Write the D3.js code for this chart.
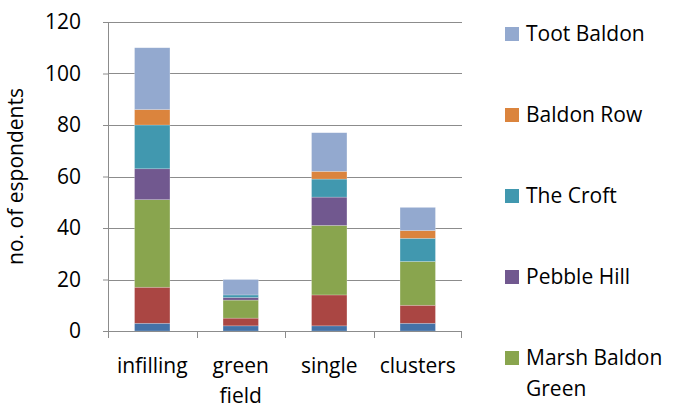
<!DOCTYPE html>
<meta charset="utf-8">
<style>
body { margin: 0; background: #fff; }
text { font-family: "Open Sans", "Liberation Sans", sans-serif; fill: #000; }
</style>
<body>
<script src="https://d3js.org/d3.v7.min.js"></script>
<script>

// categories along the x axis (multi-line labels split on \n)
var categories = ["infilling", "green\nfield", "single", "clusters"];

// series from bottom of stack to top
var seriesNames = ["Series 1", "Series 2", "Marsh Baldon Green", "Pebble Hill", "The Croft", "Baldon Row", "Toot Baldon"];
var seriesColors = ["#4572A7", "#AA4643", "#89A54E", "#71588F", "#4198AF", "#DB843D", "#93A9CF"];

var s1 = [3, 2, 2, 3];
var s2 = [14, 3, 12, 7];
var marshBaldonGreen = [34, 7, 27, 17];
var pebbleHill = [12, 1, 11, 0];
var theCroft = [17, 1, 7, 9];
var baldonRow = [6, 0, 3, 3];
var tootBaldon = [24, 6, 15, 9];

var seriesValues = [s1, s2, marshBaldonGreen, pebbleHill, theCroft, baldonRow, tootBaldon];

// legend shows only these (top to bottom)
var legendItems = ["Toot Baldon", "Baldon Row", "The Croft", "Pebble Hill", "Marsh Baldon Green"];

var yTicks = [0, 20, 40, 60, 80, 100, 120];

var W = 677, H = 408;
var margin = {top: 22, left: 108, right: 215, bottom: 77};
var width = W - margin.left - margin.right,
    height = H - margin.top - margin.bottom;
var fontSize = "21px";

var table = categories.map(function(c, i) {
  var row = {cat: c};
  seriesNames.forEach(function(s, j) { row[s] = seriesValues[j][i]; });
  return row;
});

var stack = d3.stack().keys(seriesNames)(table);

var x = d3.scaleBand().domain(categories).range([0, width]).paddingInner(0.6).paddingOuter(0.3);
var xOuter = d3.scaleBand().domain(categories).range([0, width]);
var y = d3.scaleLinear().domain([0, 120]).range([height, 0]);
var color = d3.scaleOrdinal().domain(seriesNames).range(seriesColors);

var svg = d3.select("body").append("svg")
    .attr("width", W)
    .attr("height", H)
  .append("g")
    .attr("transform", "translate(" + margin.left + "," + margin.top + ")");

// gridlines
svg.append("g")
  .selectAll("line")
  .data(yTicks)
  .enter().append("line")
    .attr("x1", 0)
    .attr("x2", width)
    .attr("y1", function(d) { return Math.round(y(d)) + 0.5; })
    .attr("y2", function(d) { return Math.round(y(d)) + 0.5; })
    .style("stroke", "#8c8c8c")
    .style("stroke-width", 1);

// bars
svg.append("g")
  .selectAll("g")
  .data(stack)
  .enter().append("g")
    .style("fill", function(d) { return color(d.key); })
  .selectAll("rect")
  .data(function(d) { return d; })
  .enter().append("rect")
    .attr("x", function(d) { return x(d.data.cat); })
    .attr("width", x.bandwidth())
    .attr("y", function(d) { return y(d[1]); })
    .attr("height", function(d) { return y(d[0]) - y(d[1]); })
    .style("stroke", "rgba(255,255,255,0.35)")
    .style("stroke-width", 0.6);

// y axis
var yAxis = svg.append("g")
    .call(d3.axisLeft(y).tickValues(yTicks).tickSize(5).tickPadding(22));
yAxis.select(".domain").remove();
yAxis.selectAll("line").style("stroke", "#8c8c8c");
yAxis.selectAll("text")
    .style("font-size", fontSize)
    .style("font-family", "'Open Sans', 'Liberation Sans', sans-serif");
svg.append("line")
    .attr("x1", 0.5).attr("x2", 0.5)
    .attr("y1", 0).attr("y2", height + 7)
    .style("stroke", "#8c8c8c");

// x axis line and boundary ticks
svg.append("line")
    .attr("x1", 0).attr("x2", width)
    .attr("y1", height + 0.5).attr("y2", height + 0.5)
    .style("stroke", "#8c8c8c");
svg.append("g")
  .selectAll("line")
  .data(categories.slice(1).concat(["__end"]))
  .enter().append("line")
    .attr("x1", function(d) { return d === "__end" ? width - 0.5 : Math.round(xOuter(d)) + 0.5; })
    .attr("x2", function(d) { return d === "__end" ? width - 0.5 : Math.round(xOuter(d)) + 0.5; })
    .attr("y1", height)
    .attr("y2", height + 7)
    .style("stroke", "#8c8c8c");

// x labels
svg.append("g")
  .selectAll("text")
  .data(categories)
  .enter().append("text")
    .attr("x", function(d) { return xOuter(d) + xOuter.bandwidth() / 2; })
    .attr("y", height + 42)
    .style("text-anchor", "middle")
    .style("font-size", fontSize)
    .each(function(d) {
      var t = d3.select(this);
      d.split("\n").forEach(function(line, i) {
        t.append("tspan")
          .attr("x", xOuter(d) + xOuter.bandwidth() / 2)
          .attr("dy", i === 0 ? 0 : 30)
          .text(line);
      });
    });

// y axis title
svg.append("text")
    .attr("transform", "translate(" + (-85) + "," + (height / 2) + ") rotate(-90)")
    .style("text-anchor", "middle")
    .style("font-size", fontSize)
    .text("no. of espondents");

// legend
var legend = svg.append("g")
    .attr("transform", "translate(" + (width + 43) + ",0)")
  .selectAll("g")
  .data(legendItems)
  .enter().append("g")
    .attr("transform", function(d, i) { return "translate(0," + (12 + i * 81) + ")"; });

legend.append("rect")
    .attr("x", 0)
    .attr("y", -7)
    .attr("width", 14)
    .attr("height", 14)
    .style("fill", function(d) { return color(d); });

legend.append("text")
    .attr("x", 21)
    .attr("y", 0)
    .style("font-size", fontSize)
    .each(function(d) {
      var t = d3.select(this);
      var lines = d === "Marsh Baldon Green" ? ["Marsh Baldon", "Green"] : [d];
      lines.forEach(function(line, i) {
        t.append("tspan")
          .attr("x", 21)
          .attr("dy", i === 0 ? ".35em" : 31)
          .text(line);
      });
    });

</script>
</body>
